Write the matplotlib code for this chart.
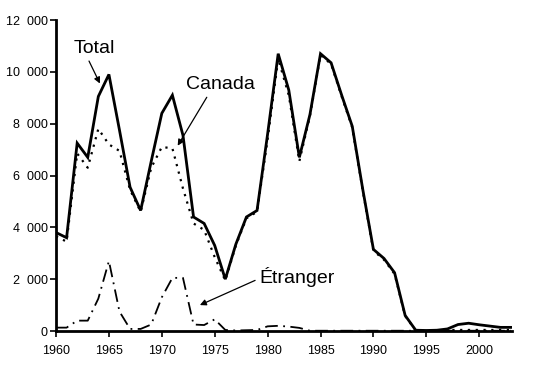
import numpy as np
import matplotlib.pyplot as plt
from matplotlib.ticker import FuncFormatter

plt.rcParams['font.family'] = ['Liberation Sans', 'DejaVu Sans']

years = list(range(1960, 2004))
total = [3800, 3600, 7250, 6700, 9050, 9900, 7750, 5550, 4650, 6550,
         8400, 9100, 7550, 4400, 4150, 3300, 2000, 3350, 4400, 4650,
         7600, 10700, 9300, 6700, 8350, 10700, 10350, 9100, 7900, 5450,
         3150, 2800, 2250, 600, 30, 20, 30, 80, 250, 300,
         240, 190, 140, 140]
etranger = [130, 130, 400, 400, 1250, 2700, 750, 80, 80, 250,
            1300, 2050, 2050, 250, 230, 450, 40, 20, 30, 40,
            180, 200, 170, 120, 10, 10, 10, 10, 10, 10,
            10, 10, 10, 10, 10, 10, 10, 10, 10, 10,
            10, 10, 10, 10]
canada = [3650, 3450, 6850, 6300, 7800, 7200, 6950, 5450, 4600, 6300,
          7100, 7050, 5500, 4150, 3900, 2850, 1950, 3300, 4350, 4600,
          7400, 10500, 9100, 6550, 8300, 10650, 10300, 9050, 7850, 5400,
          3100, 2750, 2200, 580, 20, 20, 20, 40, 40, 40,
          40, 40, 40, 40]
xticks = [1960, 1965, 1970, 1975, 1980, 1985, 1990, 1995, 2000]
yticks = [0, 2000, 4000, 6000, 8000, 10000, 12000]

fig = plt.figure(figsize=(5.38, 3.70), dpi=100)
ax = fig.add_axes([0.1041, 0.1054, 0.8476, 0.8405])

ax.plot(years, total, color='black', lw=2.0, solid_joinstyle='miter')
ax.plot(years, canada, color='black', lw=1.6, linestyle=(0, (1, 2.5)))
ax.plot(years, etranger, color='black', lw=1.3, linestyle=(0, (7, 3, 1, 3)))

ax.set_xlim(1960, 2003.1)
ax.set_ylim(0, 12000)
ax.set_xticks(xticks)
ax.set_yticks(yticks)
ax.yaxis.set_major_formatter(FuncFormatter(lambda v, p: f"{int(v):,}".replace(",", "  ")))

for s in ['top', 'right']:
    ax.spines[s].set_visible(False)
for s in ['left', 'bottom']:
    ax.spines[s].set_linewidth(2.0)
ax.tick_params(axis='both', direction='out', length=4, width=1.2, labelsize=9)
ax.tick_params(axis='x', pad=6)
ax.tick_params(axis='y', pad=2)

def arrow(rp):
    return dict(arrowstyle='-|>', color='black', lw=0.9, mutation_scale=9,
                shrinkA=1, shrinkB=0, relpos=rp)

ax.annotate('Total', xy=(1964.15, 9550), xytext=(1963.6, 10900), fontsize=14,
            ha='center', va='center', arrowprops=arrow((0.33, 0.0)))
ax.annotate('Canada', xy=(1971.5, 7150), xytext=(1975.5, 9500), fontsize=14,
            ha='center', va='center', arrowprops=arrow((0.35, 0.05)))
ax.annotate('Étranger', xy=(1973.6, 1000), xytext=(1979.2, 2100), fontsize=14,
            ha='left', va='center', arrowprops=arrow((0.0, 0.4)))

fig.savefig('out.png', dpi=100)
